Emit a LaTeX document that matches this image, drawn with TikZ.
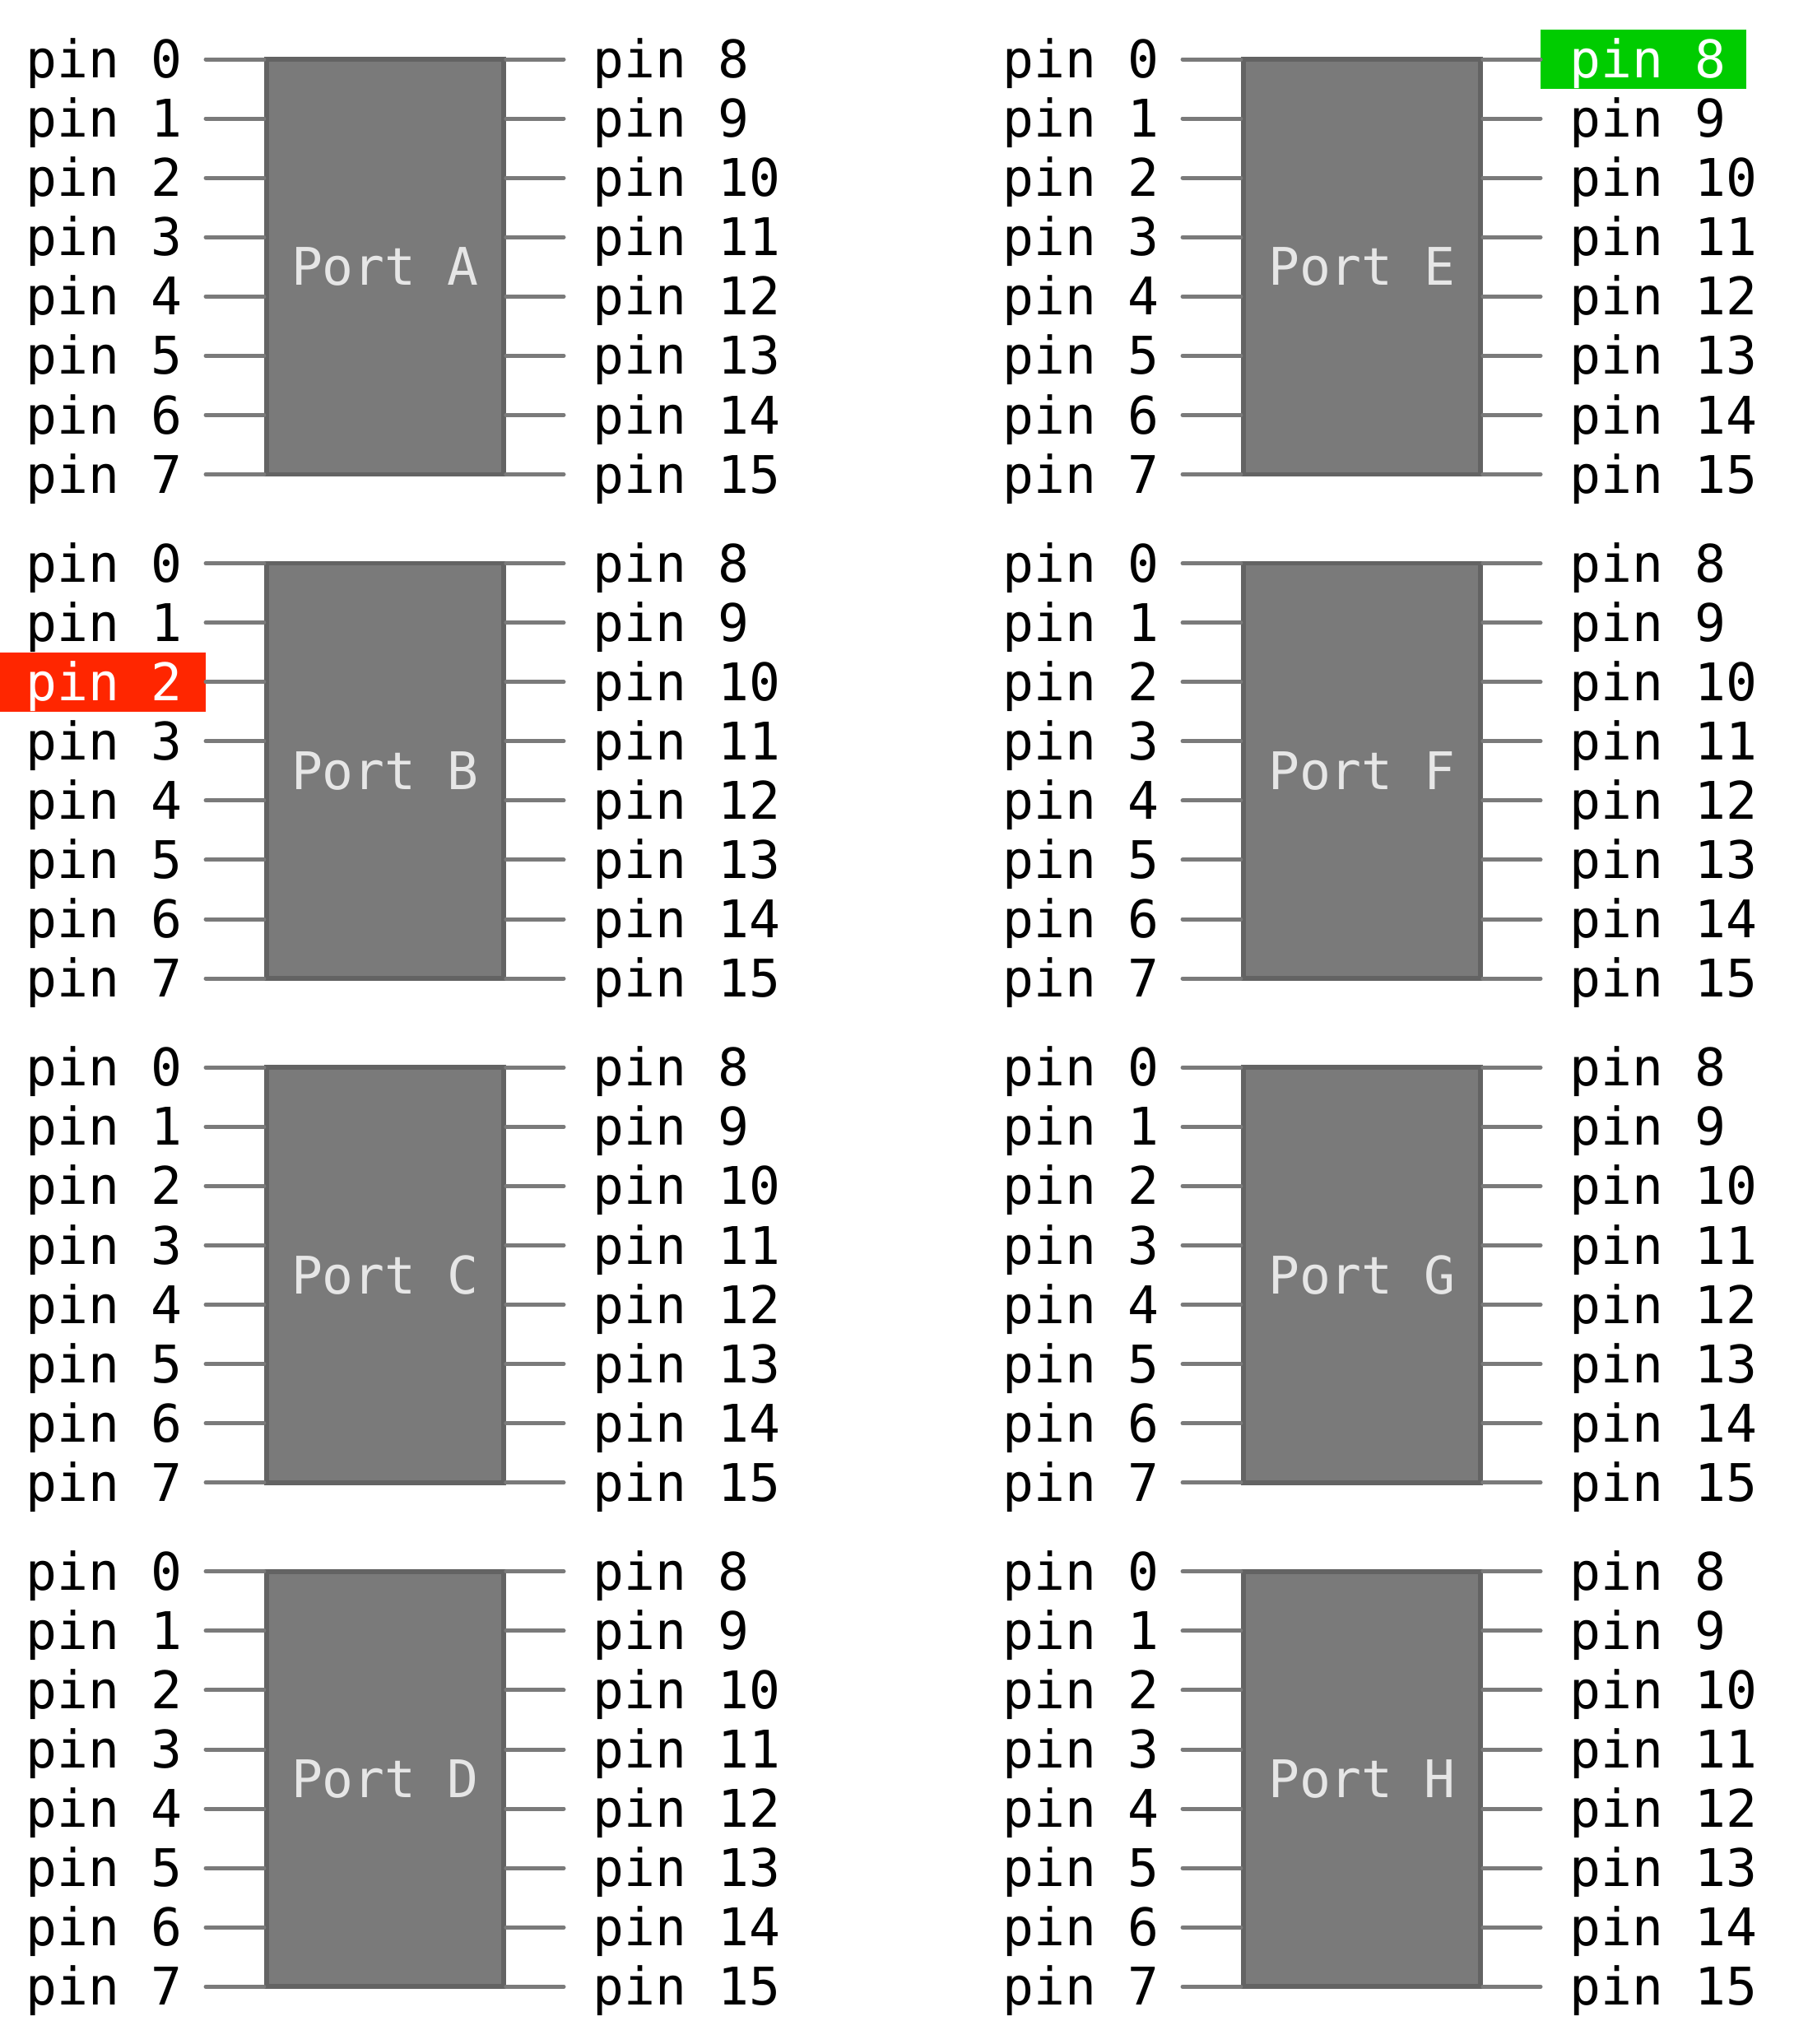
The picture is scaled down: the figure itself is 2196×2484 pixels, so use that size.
\documentclass[tikz,border=0pt]{standalone}
\usepackage{fontspec}
\setmonofont{DejaVu Sans Mono}
\definecolor{boxfill}{HTML}{7A7A7A}
\definecolor{boxedge}{HTML}{636363}
\definecolor{wirecol}{HTML}{7A7A7A}
\definecolor{porttext}{HTML}{E6E6E6}
\definecolor{hired}{HTML}{FF2600}
\definecolor{higreen}{HTML}{00CC00}
\newcommand\pinfont{\ttfamily\fontsize{31.5pt}{36pt}\selectfont}
\expandafter\def\csname hl@BL2\endcsname{hired}
\expandafter\def\csname hl@ER8\endcsname{higreen}
\begin{document}
\begin{tikzpicture}[x=0.5pt,y=-0.5pt,
  portbox/.style={draw=boxedge, fill=boxfill, line width=2.85pt,
    minimum width=144.15pt, minimum height=252.25pt, inner sep=0pt,
    text=porttext, font=\pinfont},
  pinlbl/.style={inner sep=0pt, minimum height=36.03pt,
    text height=29pt, text depth=6.4pt, font=\pinfont},
  wire/.style={draw=wirecol, line width=2.5pt, line cap=round}]
\useasboundingbox (0,0) rectangle (2196,2484);
\foreach \P/\dx/\row in {A/0/0, B/0/1, C/0/2, D/0/3, E/1187/0, F/1187/1, G/1187/2, H/1187/3} {
  \pgfmathsetmacro\yo{72+\row*612.6}
  \node[portbox] (\P) at (467.85+\dx, \yo+252.25) {Port \P};
  \foreach \i in {0,...,7} {
    \pgfmathsetmacro\y{\yo+\i*72.07}
    \pgfmathtruncatemacro\j{\i+8}
    % left label
    \edef\nm{\P L\i}
    \ifcsname hl@\nm\endcsname
      \edef\hlc{\csname hl@\nm\endcsname}
      \tikzset{curl/.style={fill=\hlc, text=white}}
    \else
      \tikzset{curl/.style={}}
    \fi
    \node[pinlbl, curl, anchor=east] (\P L\i) at (250+\dx, \y)
      {\makebox[125pt][l]{\hspace*{16pt}pin \i}};
    % right label
    \edef\nm{\P R\j}
    \ifcsname hl@\nm\endcsname
      \edef\hlc{\csname hl@\nm\endcsname}
      \tikzset{curr/.style={fill=\hlc, text=white}}
    \else
      \tikzset{curr/.style={}}
    \fi
    \node[pinlbl, curr, anchor=west] (\P R\j) at (685+\dx, \y)
      {\makebox[125pt][l]{\hspace*{17.5pt}pin \j}};
    \draw[wire] (\P L\i.east) -- (\P.west |- \P L\i.east);
    \draw[wire] (\P.east |- \P R\j.west) -- (\P R\j.west);
  }
}
\end{tikzpicture}
\end{document}
